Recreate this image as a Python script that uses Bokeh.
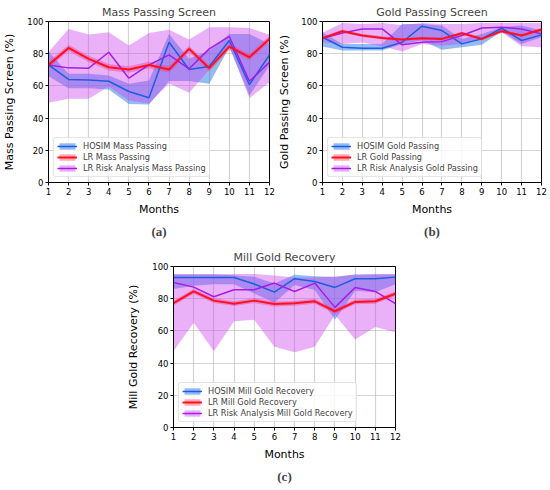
from bokeh.plotting import figure
from bokeh.models import Legend, LegendItem, Title, FixedTicker, Spacer
from bokeh.layouts import column, row
from bokeh.embed import file_html
from bokeh.resources import INLINE

months = [1, 2, 3, 4, 5, 6, 7, 8, 9, 10, 11, 12]

# (a) Mass Passing Screen
a_hosim = [73, 64, 63.7, 62.9, 56.5, 52.6, 87.1, 70.2, 72, 88.2, 60.8, 79.3]
a_hosim_lo = [66, 58.6, 58.6, 57.7, 48.8, 48.5, 63, 63, 61.3, 84, 54, 72.6]
a_hosim_hi = [81.3, 67.5, 67.5, 66.4, 61.3, 63.3, 92.3, 76.8, 82, 92.3, 92.3, 86.1]
a_lr = [73, 83.6, 76.8, 71.6, 70.2, 73, 70.2, 83, 71, 84.4, 77.8, 89.2]
a_lr_lo = [71, 81.6, 74.8, 69.6, 68.2, 71, 68.2, 81, 69, 82.4, 75.8, 87.2]
a_lr_hi = [75, 85.6, 78.8, 73.6, 72.2, 75, 72.2, 85, 73, 86.4, 79.8, 91.2]
a_risk = [73, 71.2, 71, 80.9, 64.8, 73, 79.3, 70.6, 83, 90.7, 62.9, 74.7]
a_risk_lo = [49.5, 52, 52, 59.6, 51, 49, 61.5, 55.7, 70, 85, 52.4, 62.3]
a_risk_hi = [81, 95.4, 91.9, 93.3, 85.1, 92.9, 94.8, 88.8, 96.5, 96.5, 96, 91.7]

# (b) Gold Passing Screen
b_hosim = [90.2, 84, 83.4, 83.4, 87.1, 97.1, 94.4, 86.1, 89.2, 95.8, 88.2, 91.7]
b_hosim_lo = [84.5, 82, 82, 82, 86.1, 88.2, 82.5, 84, 85.5, 93.8, 86.1, 90.2]
b_hosim_hi = [93.4, 86.1, 86.1, 86.1, 98.5, 98.5, 97.5, 89.2, 92.3, 96.5, 97.5, 94.4]
b_lr = [89.6, 94, 91.3, 89.8, 88.8, 89.6, 89.2, 92.7, 89.2, 94, 91.3, 95]
b_lr_lo = [88.6, 93, 90.3, 88.8, 87.8, 88.6, 88.2, 91.7, 88.2, 93, 90.3, 94]
b_lr_hi = [90.6, 95, 92.3, 90.8, 89.8, 90.6, 90.2, 93.7, 90.2, 95, 92.3, 96]
b_risk = [89.6, 92.9, 95.4, 95.4, 85.5, 87.1, 87.5, 91.3, 96, 96.5, 95.4, 92.3]
b_risk_lo = [87.1, 86, 87, 84.7, 81.3, 86.1, 85, 86.1, 88.8, 93.3, 84.7, 84]
b_risk_hi = [93, 99.1, 98.5, 99.1, 97.9, 99.1, 98.5, 98.5, 99.1, 99.1, 99.1, 99.1]

# (c) Mill Gold Recovery
c_hosim = [93.2, 93.2, 93.2, 93.2, 89.1, 84.1, 92.4, 90.7, 87, 92.4, 92.4, 93.4]
c_hosim_lo = [86, 88, 89, 89, 83.3, 77.5, 88.5, 85.4, 67, 85, 84, 89]
c_hosim_hi = [95, 95, 95, 94.5, 93.6, 89.5, 94.8, 94, 93.5, 95, 95, 95]
c_lr = [77.3, 84.5, 78.8, 76.9, 78.8, 76.7, 77.1, 78.4, 72.2, 78, 78.4, 83.1]
c_lr_lo = [75.8, 83, 77.3, 75.4, 77.3, 75.2, 75.6, 76.9, 70.7, 76.5, 76.9, 81.6]
c_lr_hi = [78.8, 86, 80.3, 78.4, 80.3, 78.2, 78.6, 79.9, 73.7, 79.5, 79.9, 84.6]
c_risk = [90.1, 87.2, 81.2, 85.6, 85.6, 89.7, 84.5, 89.7, 74.6, 87, 84.5, 76.9]
c_risk_lo = [47.4, 65, 47.4, 66, 67, 50.1, 46.8, 50.1, 70, 54.6, 62.5, 59.2]
c_risk_hi = [95.3, 95.3, 95.3, 95.3, 95.3, 94.4, 93.2, 93.2, 93.8, 94.9, 95.3, 95.3]

y_ticks = [0, 20, 40, 60, 80, 100]

FONT = "DejaVu Sans"
BLUE = "#1a5fe0"
BLUE_BAND = "#2a78e8"
RED = "#ff1020"
RED_BAND = "#ff4050"
PURPLE = "#a81ce8"
PURPLE_BAND = "#cc44ee"


def panel(title, ylabel, caption, labels, series, width, height, bl, br, bt, bb,
          ylab_standoff, title_standoff):
    p = figure(width=width, height=height, x_range=(1, 12), y_range=(0, 100),
               output_backend="svg", toolbar_location=None,
               min_border_left=bl, min_border_right=br, min_border_top=bt,
               min_border_bottom=bb)
    p.title.text = title
    p.title.align = "center"
    p.title.text_font = FONT
    p.title.text_font_size = "11px"
    p.title.text_font_style = "normal"
    p.title.standoff = title_standoff
    p.outline_line_color = "black"
    p.outline_line_width = 1
    p.outline_line_alpha = 1
    for ax in (p.xaxis[0], p.yaxis[0]):
        ax.major_label_text_font = FONT
        ax.major_label_text_font_size = "8.5px"
        ax.major_label_text_color = "black"
        ax.axis_label_text_font = FONT
        ax.axis_label_text_font_size = "11px"
        ax.axis_label_text_font_style = "normal"
        ax.axis_label_text_color = "black"
        ax.major_tick_in = 0
        ax.major_tick_out = 3
        ax.minor_tick_line_color = None
        ax.axis_line_color = "black"
        ax.major_label_standoff = 2
    p.xaxis.axis_label_standoff = 5
    p.yaxis.axis_label_standoff = ylab_standoff
    p.xaxis.ticker = FixedTicker(ticks=months)
    p.yaxis.ticker = FixedTicker(ticks=y_ticks)
    p.xaxis.axis_label = "Months"
    p.yaxis.axis_label = ylabel
    p.grid.grid_line_color = "#b0b0b0"
    p.grid.grid_line_alpha = 0.55
    p.grid.grid_line_width = 1.2

    (h, hlo, hhi), (l, llo, lhi), (r, rlo, rhi) = series
    bh = p.varea(x=months, y1=hlo, y2=hhi, fill_color=BLUE_BAND, fill_alpha=0.5)
    bl_ = p.varea(x=months, y1=llo, y2=lhi, fill_color=RED_BAND, fill_alpha=0.45)
    br_ = p.varea(x=months, y1=rlo, y2=rhi, fill_color=PURPLE_BAND, fill_alpha=0.42)
    lh = p.line(months, h, line_color=BLUE, line_width=1.5)
    lr_ = p.line(months, r, line_color=PURPLE, line_width=1.5)
    ll = p.line(months, l, line_color=RED, line_width=2)

    legend = Legend(items=[
        LegendItem(label=labels[0], renderers=[bh, lh]),
        LegendItem(label=labels[1], renderers=[bl_, ll]),
        LegendItem(label=labels[2], renderers=[br_, lr_]),
    ], location="bottom_left")
    legend.label_text_font = FONT
    legend.label_text_font_size = "8.2px"
    legend.label_height = 10
    legend.label_standoff = 6
    legend.glyph_width = 20
    legend.glyph_height = 8
    legend.spacing = 1
    legend.padding = 3
    legend.margin = 5
    legend.border_line_color = "#cccccc"
    legend.border_line_width = 1
    legend.background_fill_alpha = 0.8
    legend.border_radius = 3
    p.add_layout(legend)

    cap = Title(text=caption, align="center", text_font="Liberation Serif",
                text_font_size="13px", text_font_style="bold", standoff=6)
    p.add_layout(cap, "below")
    return p


pa = panel("Mass Passing Screen", "Mass Passing Screen (%)", "(a)",
           ["HOSIM Mass Passing", "LR Mass Passing", "LR Risk Analysis Mass Passing"],
           [(a_hosim, a_hosim_lo, a_hosim_hi), (a_lr, a_lr_lo, a_lr_hi),
            (a_risk, a_risk_lo, a_risk_hi)],
           275, 245, 48, 6, 21, 63, 8, 6)
pb = panel("Gold Passing Screen", "Gold Passing Screen (%)", "(b)",
           ["HOSIM Gold Passing", "LR Gold Passing", "LR Risk Analysis Gold Passing"],
           [(b_hosim, b_hosim_lo, b_hosim_hi), (b_lr, b_lr_lo, b_lr_hi),
            (b_risk, b_risk_lo, b_risk_hi)],
           274, 245, 44, 8, 21, 63, 7, 6)
pc = panel("Mill Gold Recovery", "Mill Gold Recovery (%)", "(c)",
           ["HOSIM Mill Gold Recovery", "LR Mill Gold Recovery",
            "LR Risk Analysis Mill Gold Recovery"],
           [(c_hosim, c_hosim_lo, c_hosim_hi), (c_lr, c_lr_lo, c_lr_hi),
            (c_risk, c_risk_lo, c_risk_hi)],
           290, 243, 53, 15, 20, 61, 9, 6)

layout = column(row(pa, pb), row(Spacer(width=120, height=243), pc))
open("out.html", "w").write(file_html(layout, INLINE))
